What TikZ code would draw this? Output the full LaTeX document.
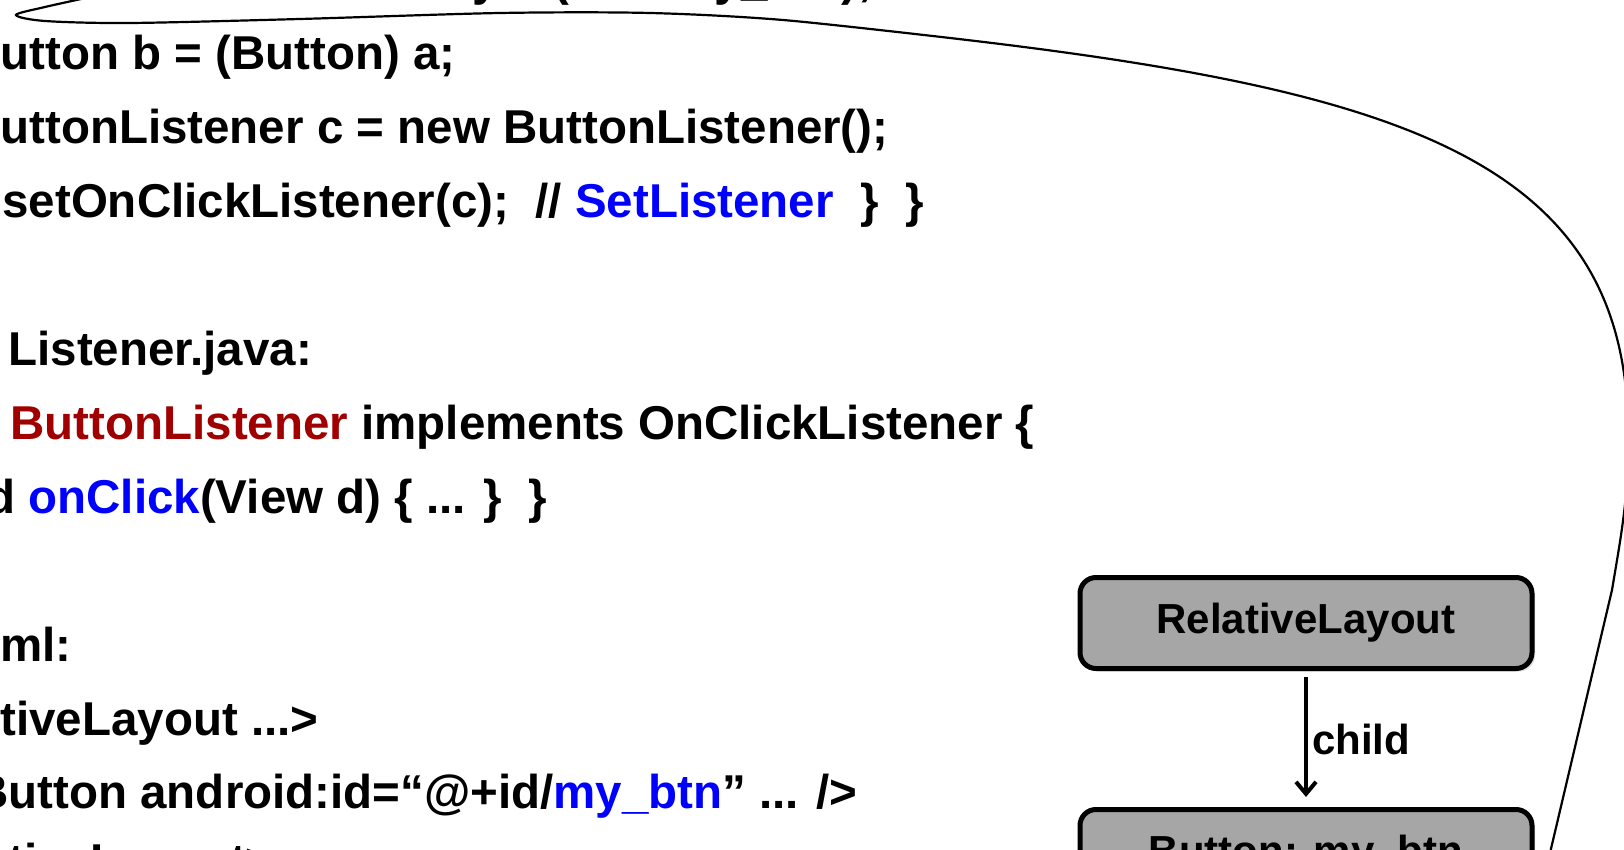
\documentclass[tikz,border=0pt]{standalone}
\usepackage{xcolor}
\usepackage{fontspec}
\setmainfont{Liberation Sans}
\usepackage{tikz}
\usetikzlibrary{arrows.meta, positioning, shadows}
\definecolor{codered}{RGB}{160,0,0}
\definecolor{codeblue}{RGB}{0,0,255}
\definecolor{boxgray}{RGB}{166,166,166}

\begin{document}
\begin{tikzpicture}[
    x=0.5pt, y=-0.5pt,
    code/.style={anchor=base west, inner sep=0pt, font=\fontsize{23.75}{28}\selectfont\bfseries},
    view/.style={rectangle, draw, line width=2.5pt, rounded corners=8pt, fill=boxgray, minimum width=226pt, minimum height=45.5pt, font=\fontsize{21}{25}\selectfont\bfseries, drop shadow={opacity=0.25, shadow xshift=1.5pt, shadow yshift=-1.5pt}},
    relation/.style={-{Straight Barb[length=6pt, width=10pt]}, line width=2pt},
    callout/.style={line width=1.1pt},
]
\path[use as bounding box, clip] (0,0) rectangle (1624,850);

\node[code] (findline) at (243,-4) {findViewById (R.id.my\_btn);};
\node[code] (castline) at (0,70) {utton b = (Button) a;};
\node[code] (newline) at (0,144) {uttonListener c = new ButtonListener();};
\node[code] (setline) at (2,218) {setOnClickListener(c);~~// \textcolor{codeblue}{SetListener}~~\}~~\}};
\node[code] (fileline) at (8,365) {Listener.java:};
\node[code] (classline) at (10,439) {\textcolor{codered}{ButtonListener} implements OnClickListener \{};
\node[code] (clickline) at (-14,513) {d \textcolor{codeblue}{onClick}(View d) \{ ... \}~~\}};
\node[code] (xmlline) at (0,661) {ml:};
\node[code] (openline) at (0,735) {tiveLayout ...>};
\node[code] (btnline) at (-26,808) {Button android:id=“@+id/\textcolor{codeblue}{my\_btn}” ... />};
\node[code] (closeline) at (8,877) {tiveLayout>};

\node[view] (layout) at (1306,623) {RelativeLayout};
\node[view, below=68pt of layout] (btn) {Button: my\_btn};
\draw[relation, shorten <=3pt, shorten >=5pt] (layout) -- (btn) node[midway, right, inner sep=2pt, font=\fontsize{21}{25}\selectfont\bfseries] {child};

\coordinate (calloutstart) at (95,-4);
\coordinate (calloutturn) at (1628,420);
\coordinate (calloutend) at (1546,870);
\draw[callout] plot[smooth, tension=0.5] coordinates {(calloutstart) (45,7) (16,15) (45,21) (130,23) (300,19) (500,13) (650,13) (783,20) (950,38)}
    .. controls (1400,90) and (1620,160) .. (calloutturn)
    .. controls (1630,490) and (1622,530) .. (1612,590) -- (calloutend);

\end{tikzpicture}
\end{document}
